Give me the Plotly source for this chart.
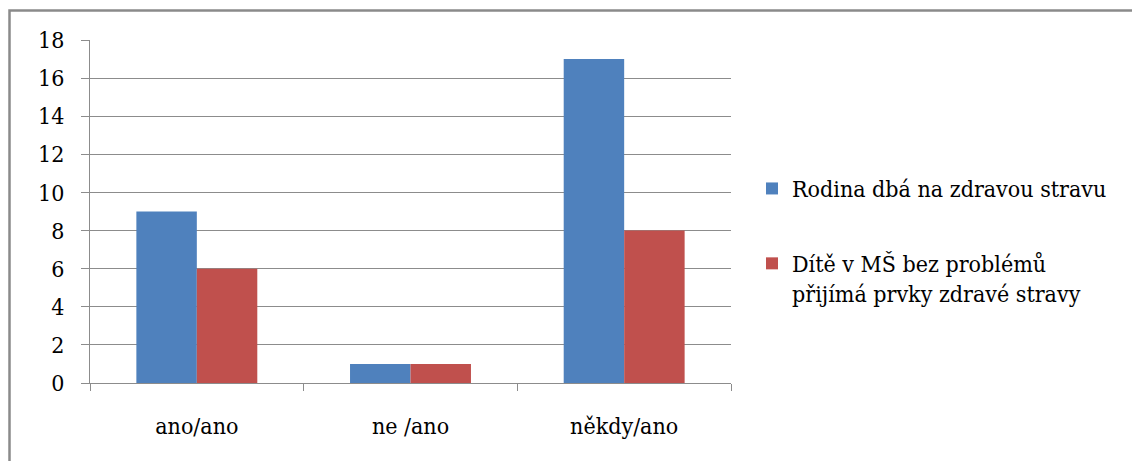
import plotly.graph_objects as go

categories = ["ano/ano", "ne /ano", "někdy/ano"]
rodina = [9, 1, 17]
dite = [6, 1, 8]
series_names = [
    "Rodina dbá na zdravou stravu",
    "Dítě v MŠ bez problémů<br>přijímá prvky zdravé stravy",
]
y_ticks = list(range(0, 19, 2))

BLUE = "#4F81BD"
RED = "#C0504D"
GRID = "#8C8C8C"
FONT = "DejaVu Serif Condensed, DejaVu Serif"
FS = 23

fig = go.Figure()
fig.add_trace(go.Bar(x=categories, y=rodina, name=series_names[0],
                     marker=dict(color=BLUE, line=dict(width=0)),
                     legendgroup="a"))
fig.add_trace(go.Bar(x=categories, y=dite, name=series_names[1],
                     marker=dict(color=RED, line=dict(width=0)),
                     legendgroup="b"))

W, H = 1132, 461
ml, mr, mt, mb = 90, W - 731, 40, H - 383
pw, ph = W - ml - mr, H - mt - mb

# outer chart frame (extends past the right and bottom edges)
fig.add_shape(type="rect", xref="paper", yref="paper",
              x0=(9.5 - ml) / pw, x1=(W + 20 - ml) / pw,
              y0=-(mb + 20) / ph, y1=1 + (mt - 10.5) / ph,
              line=dict(color="#8A8A8A", width=2.5), fillcolor="rgba(0,0,0,0)",
              layer="below")

fig.update_layout(
    width=W, height=H,
    margin=dict(l=ml, r=mr, t=mt, b=mb, pad=0, autoexpand=False),
    paper_bgcolor="white", plot_bgcolor="white",
    font=dict(family=FONT, size=FS, color="black"),
    barmode="group", bargap=0.434, bargroupgap=0,
    showlegend=True,
    legend=dict(x=(752 - ml) / pw, xanchor="left",
                y=1 - (167 - mt) / ph, yanchor="top",
                font=dict(family=FONT, size=FS, color="black"),
                traceorder="grouped", tracegroupgap=42,
                valign="top", bgcolor="rgba(0,0,0,0)"),
    xaxis=dict(type="category", showgrid=False, showline=True,
               linecolor=GRID, linewidth=1, ticks="outside",
               tickson="boundaries", ticklen=7, tickcolor=GRID,
               ticklabelstandoff=22, zeroline=False, fixedrange=True),
    yaxis=dict(range=[0, 18], tickvals=y_ticks, showgrid=True,
               gridcolor=GRID, gridwidth=1, showline=True,
               linecolor=GRID, linewidth=1, ticks="outside", ticklen=8,
               tickcolor=GRID, ticklabelstandoff=12, zeroline=False,
               fixedrange=True),
)

fig.write_html("out.html")
